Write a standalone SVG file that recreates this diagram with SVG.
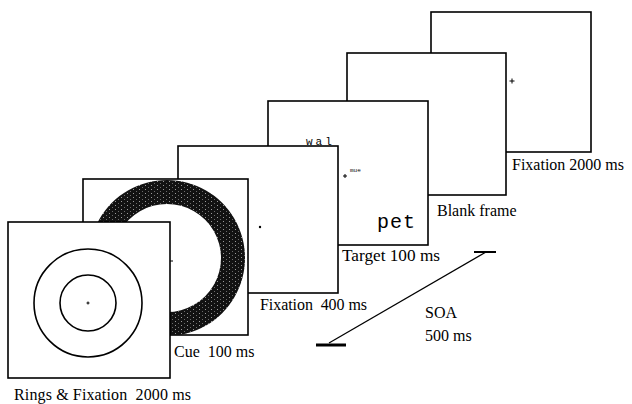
<svg xmlns="http://www.w3.org/2000/svg" width="632" height="404" viewBox="0 0 632 404">
<style>
.frame{fill:#fff;stroke:#000;stroke-width:1.6}
.ring{fill:none;stroke:#000;stroke-width:1.6}
.lbl{font-family:"Liberation Serif","Times New Roman",serif;font-size:16px;fill:#000;white-space:pre}
.mono{font-family:"Liberation Mono","Courier New",monospace;fill:#000}
.fix{stroke:#000;stroke-width:1}
.conn{stroke:#000;fill:none}
</style>
<defs>
<pattern id="speck" width="6" height="4" patternUnits="userSpaceOnUse">
<rect width="6" height="4" fill="#121212"/>
<rect x="1" y="1" width="1" height="1" fill="#9a9a9a"/>
<rect x="4" y="3" width="1" height="1" fill="#6a6a6a"/>
</pattern>
<clipPath id="clip2"><rect x="83" y="179" width="165" height="156"/></clipPath>
</defs>
<rect width="632" height="404" fill="#fff"/>
<g id="frame6">
<rect class="frame" x="431" y="12" width="160" height="140"/>
<path class="fix" d="M509.5 81h5M512 78.5v5"/>
<text class="lbl" x="512" y="170">Fixation 2000 ms</text>
</g>
<g id="frame5">
<rect class="frame" x="347" y="53" width="159" height="142"/>
<text class="lbl" x="437" y="216">Blank frame</text>
</g>
<g id="frame4">
<rect class="frame" x="268" y="101" width="160" height="144"/>
<text class="mono" x="306" y="145" font-size="11" letter-spacing="3">wal</text>
<path class="fix" d="M343 176h4M345 174v4"/>
<text class="mono" x="350" y="172" font-size="6">mue</text>
<text class="mono" x="377" y="228" font-size="20" letter-spacing="1">pet</text>
<text class="lbl" x="342" y="261" textLength="98" lengthAdjust="spacingAndGlyphs">Target 100 ms</text>
</g>
<g id="frame3">
<rect class="frame" x="178" y="146" width="160" height="147"/>
<circle cx="260" cy="227" r="1.2" fill="#000"/>
<text class="lbl" x="260" y="310" xml:space="preserve" textLength="107">Fixation  400 ms</text>
</g>
<g id="frame2">
<rect class="frame" x="83" y="179" width="165" height="156"/>
<path clip-path="url(#clip2)" fill="url(#speck)" fill-rule="evenodd" d="M167 180a78 78 0 1 0 0.01 0zM167 204a54 54 0 1 1 -0.01 0z"/>
<path class="fix" d="M167 261h6"/>
<text class="lbl" x="174" y="357" xml:space="preserve">Cue  100 ms</text>
</g>
<g id="frame1">
<rect class="frame" x="8" y="222" width="162" height="156"/>
<circle class="ring" cx="88" cy="303" r="54"/>
<circle class="ring" cx="88" cy="303" r="28"/>
<path class="fix" d="M86.5 303h3M88 301.5v3"/>
<text class="lbl" x="14" y="400" xml:space="preserve" textLength="177">Rings &amp; Fixation  2000 ms</text>
</g>
<g id="connectors">
<path class="conn" stroke-width="1.3" d="M329 343L486 252"/>
<path class="conn" stroke-width="3" d="M316 345h30"/>
<path class="conn" stroke-width="2" d="M474 252h22"/>
<text class="lbl" x="425" y="318">SOA</text>
<text class="lbl" x="425" y="341">500 ms</text>
</g>
</svg>
